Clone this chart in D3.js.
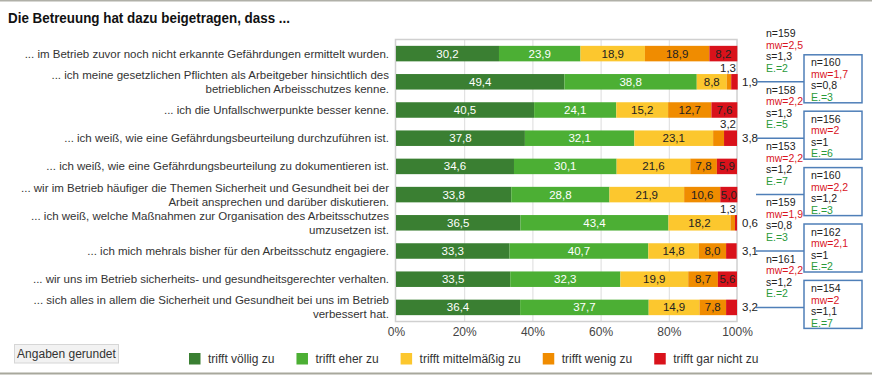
<!DOCTYPE html>
<html>
<head>
<meta charset="utf-8">
<script src="https://cdn.jsdelivr.net/npm/d3@7"></script>
<style>
  body { margin: 0; background: #fff; }
  svg { display: block; font-family: "Liberation Sans", Arial, sans-serif; }
</style>
</head>
<body>
<script>
// statements (two-line labels split with |)
const categories = [
    "... im Betrieb zuvor noch nicht erkannte Gefährdungen ermittelt wurden.",
    "... ich meine gesetzlichen Pflichten als Arbeitgeber hinsichtlich des|betrieblichen Arbeisschutzes kenne.",
    "... ich die Unfallschwerpunkte besser kenne.",
    "... ich weiß, wie eine Gefährdungsbeurteilung durchzuführen ist.",
    "... ich weiß, wie eine Gefährdungsbeurteilung zu dokumentieren ist.",
    "... wir im Betrieb häufiger die Themen Sicherheit und Gesundheit bei der|Arbeit ansprechen und darüber diskutieren.",
    "... ich weiß, welche Maßnahmen zur Organisation des Arbeitsschutzes|umzusetzen ist.",
    "... ich mich mehrals bisher für den Arbeitsschutz engagiere.",
    "... wir uns im Betrieb sicherheits- und gesundheitsgerechter verhalten.",
    "... sich alles in allem die Sicherheit und Gesundheit bei uns im Betrieb|verbessert hat."
];
const seriesNames = ["trifft völlig zu", "trifft eher zu", "trifft mittelmäßig zu", "trifft wenig zu", "trifft gar nicht zu"];
const vollig  = [30.2, 49.4, 40.5, 37.8, 34.6, 33.8, 36.5, 33.3, 33.5, 36.4];
const eher    = [23.9, 38.8, 24.1, 32.1, 30.1, 28.8, 43.4, 40.7, 32.3, 37.7];
const mittel  = [18.9, 8.8, 15.2, 23.1, 21.6, 21.9, 18.2, 14.8, 19.9, 14.9];
const wenig   = [18.9, 1.3, 12.7, 3.2, 7.8, 10.6, 1.3, 8.0, 8.7, 7.8];
const garNich = [8.2, 1.9, 7.6, 3.8, 5.9, 5.0, 0.6, 3.1, 5.6, 3.2];
const statN  = ["159", "160", "158", "156", "153", "160", "159", "162", "161", "154"];
const statMw = ["2,5", "1,7", "2,2", "2", "2,2", "2,2", "1,9", "2,1", "2,2", "2"];
const statS  = ["1,3", "0,8", "1,3", "1", "1,2", "1,2", "0,8", "1", "1,2", "1,1"];
const statE  = ["2", "3", "5", "6", "7", "3", "3", "2", "2", "7"];
const xTicks = [0, 20, 40, 60, 80, 100];

const colors = ["#3a7f32", "#4caf34", "#fcc72e", "#f08c00", "#d9121b"];
const textColors = ["#fff", "#fff", "#222", "#222", "#222"];

const W = 872, H = 375;
const svg = d3.select("body").append("svg").attr("width", W).attr("height", H);

// frame lines top and bottom
svg.append("line").attr("x1", 0).attr("x2", W).attr("y1", 0.5).attr("y2", 0.5)
    .attr("stroke", "#b0b0a8").attr("stroke-width", 2);
svg.append("line").attr("x1", 0).attr("x2", W).attr("y1", 373.5).attr("y2", 373.5)
    .attr("stroke", "#a8a89c").attr("stroke-width", 2);

svg.append("text")
    .attr("x", 8).attr("y", 23)
    .attr("textLength", 282).attr("lengthAdjust", "spacingAndGlyphs")
    .style("font-size", "15.5px").style("font-weight", "bold").style("fill", "#111")
    .text("Die Betreuung hat dazu beigetragen, dass ...");

const plot = {left: 396, right: 737, top: 39.5, bottom: 321.5};

const xScale = d3.scaleLinear().domain([0, 100]).range([plot.left, plot.right]);
const yScale = d3.scaleBand().domain(d3.range(categories.length))
    .range([plot.top, plot.bottom]).paddingInner(0.45).paddingOuter(0.225);

// grid
svg.append("g")
    .attr("transform", "translate(0," + plot.bottom + ")")
    .call(d3.axisBottom(xScale).tickValues(xTicks.slice(1, -1))
        .tickSize(-(plot.bottom - plot.top)).tickFormat(""))
    .call(g => g.select(".domain").remove())
    .call(g => g.selectAll("line").attr("stroke", "#dcdcdc").attr("stroke-width", 1));

// plot frame
svg.append("rect")
    .attr("x", plot.left - 0.5).attr("y", plot.top)
    .attr("width", plot.right - plot.left + 0.5).attr("height", plot.bottom - plot.top)
    .attr("fill", "none").attr("stroke", "#d0d0d0").attr("stroke-width", 1.5);

// x axis labels
svg.append("g")
    .attr("transform", "translate(0," + (plot.bottom + 3) + ")")
    .call(d3.axisBottom(xScale).tickValues(xTicks).tickSize(0).tickFormat(d => d + "%"))
    .call(g => g.select(".domain").remove())
    .call(g => g.selectAll("text").style("font-size", "12px").style("fill", "#444")
        .style("font-family", "Liberation Sans, Arial, sans-serif"));

// stacked data
const rows = categories.map((c, i) => ({i, vals: [vollig[i], eher[i], mittel[i], wenig[i], garNich[i]]}));
const stack = d3.stack().keys([0, 1, 2, 3, 4]).value((d, k) => d.vals[k]);
const layers = stack(rows);

const fmt = v => v.toFixed(1).replace(".", ",");

layers.forEach((layer, k) => {
    const g = svg.append("g");
    g.selectAll("rect").data(layer).join("rect")
        .attr("x", d => xScale(d[0]))
        .attr("y", d => yScale(d.data.i))
        .attr("width", d => xScale(d[1]) - xScale(d[0]))
        .attr("height", yScale.bandwidth())
        .attr("fill", colors[k]);

    g.selectAll("text").data(layer).join("text")
        .each(function(d) {
            const v = d.data.vals[k];
            const t = d3.select(this).style("font-size", "11.5px");
            const cy = yScale(d.data.i) + yScale.bandwidth() / 2;
            if (v >= 4.5) {
                t.attr("x", (xScale(d[0]) + xScale(d[1])) / 2).attr("y", cy)
                    .attr("text-anchor", "middle").attr("dy", "0.35em")
                    .style("fill", textColors[k]).text(fmt(v));
            } else if (k === 4) {
                t.attr("x", plot.right + 5).attr("y", cy).attr("dy", "0.35em")
                    .style("fill", "#222").text(fmt(v));
            } else {
                t.attr("x", plot.right - 1).attr("y", yScale(d.data.i) - 6).attr("dy", "0.35em")
                    .attr("text-anchor", "end").style("fill", "#222").text(fmt(v));
            }
        });
});

// category labels
categories.forEach((c, i) => {
    const lines = c.split("|");
    const cy = yScale(i) + yScale.bandwidth() / 2;
    const t = svg.append("text")
        .attr("text-anchor", "end")
        .style("font-size", "11.5px").style("fill", "#333");
    lines.forEach((l, j) => {
        t.append("tspan").attr("x", 389)
            .attr("y", cy + (j - (lines.length - 1) / 2) * 14)
            .attr("dy", "0.35em").text(l);
    });
});

// statistics
const statLines = i => [
    {txt: "n=" + statN[i], col: "#222"},
    {txt: "mw=" + statMw[i], col: "#d9141e"},
    {txt: "s=" + statS[i], col: "#222"},
    {txt: "E.=" + statE[i], col: "#2a9a3a"}
];
const lineOffsets = [-20, -8.5, 3, 14.5];
categories.forEach((c, i) => {
    const cy = yScale(i) + yScale.bandwidth() / 2;
    let tx = 766;
    let shift = 0;
    if (i % 2 === 1) {
        tx = 811;
        shift = 1;
        svg.append("line").attr("x1", 756).attr("x2", 804)
            .attr("y1", cy).attr("y2", cy)
            .attr("stroke", "#4f7fb8").attr("stroke-width", 1.5);
        svg.append("rect").attr("x", 804).attr("y", cy - 27)
            .attr("width", 58).attr("height", 48)
            .attr("fill", "#fff").attr("stroke", "#4f7fb8").attr("stroke-width", 1.5);
    }
    statLines(i).forEach((s, j) => {
        svg.append("text").attr("x", tx).attr("y", cy + lineOffsets[j] + shift).attr("dy", "0.35em")
            .style("font-size", "10.5px").style("fill", s.col).text(s.txt);
    });
});

// note box
svg.append("rect").attr("x", 14.5).attr("y", 344.5).attr("width", 104).attr("height", 18.5)
    .attr("fill", "#f2f2f2").attr("stroke", "#d6d6d6");
svg.append("text").attr("x", 66.5).attr("y", 353.5).attr("dy", "0.35em")
    .attr("text-anchor", "middle").style("font-size", "12px").style("fill", "#333")
    .text("Angaben gerundet");

// legend
let lx = 189;
seriesNames.forEach((name, k) => {
    svg.append("rect").attr("x", lx).attr("y", 353).attr("width", 11.5).attr("height", 11.5)
        .attr("fill", colors[k]);
    const t = svg.append("text").attr("x", lx + 19).attr("y", 358.5).attr("dy", "0.35em")
        .style("font-size", "12px").style("fill", "#333").text(name);
    lx += 19 + t.node().getComputedTextLength() + 22;
});
</script>
</body>
</html>
